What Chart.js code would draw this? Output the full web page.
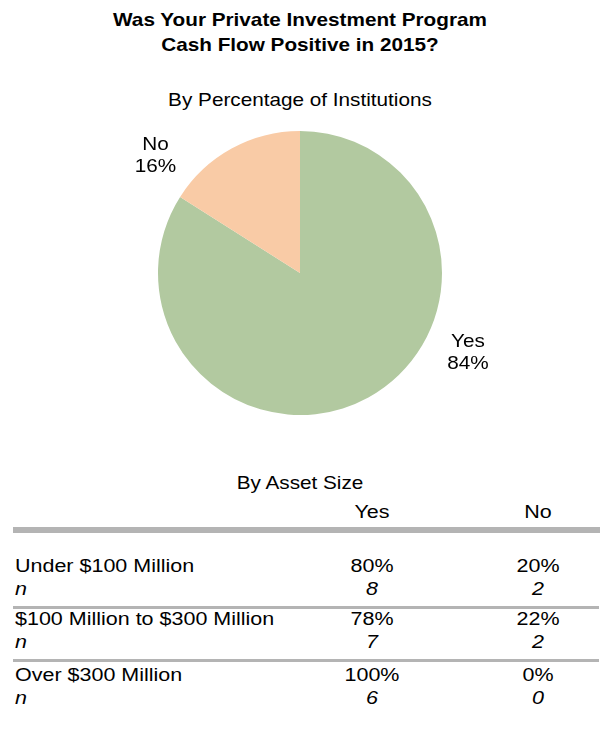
<!DOCTYPE html>
<html>
<head>
<meta charset="utf-8">
<script src="https://cdn.jsdelivr.net/npm/chart.js@4.4.1/dist/chart.umd.min.js"></script>
<style>
  body { margin: 0; width: 600px; height: 732px; background: #fff; position: relative; overflow: hidden;
         font-family: "Liberation Sans", Arial, sans-serif; color: #000; }
  .txt { position: absolute; white-space: nowrap; line-height: 1; font-size: 18.5px; }
  .title { font-weight: bold; }
  .cell { font-size: 19.2px; }
  .it { font-style: italic; }
  .rule { position: absolute; background: #b4b4b4; }
  #pieWrap { position: absolute; left: 0; top: 110px; }
</style>
</head>
<body>
<div id="pieWrap"><canvas id="pie" width="600" height="330"></canvas></div>

<script>
const pieLabels = ['Yes', 'No'];
const pieValues = [84, 16];
const pieColors = ['#b2c9a0', '#f9cba6'];

const sizeGroups = ['Under $100 Million', '$100 Million to $300 Million', 'Over $300 Million'];
const colHeads = ['Yes', 'No'];
const yesPct = [80, 78, 100];
const noPct = [20, 22, 0];
const yesN = [8, 7, 6];
const noN = [2, 2, 0];

// text is set a little wide, like the original export
const STRETCH = 1.12;

// place a line of text centred vertically on y; align = left | center
function put(text, x, y, cls, align) {
  const d = document.createElement('div');
  d.className = 'txt ' + cls;
  d.textContent = text;
  d.style.left = x + 'px';
  d.style.top = y + 'px';
  if (align === 'center') {
    d.style.transform = 'translate(-50%,-50%) scaleX(' + STRETCH + ')';
  } else {
    d.style.transformOrigin = 'left center';
    d.style.transform = 'translate(0,-50%) scaleX(' + STRETCH + ')';
  }
  document.body.appendChild(d);
}
function rule(x, y, w, h) {
  const d = document.createElement('div');
  d.className = 'rule';
  d.style.left = x + 'px'; d.style.top = y + 'px';
  d.style.width = w + 'px'; d.style.height = h + 'px';
  document.body.appendChild(d);
}

put('Was Your Private Investment Program', 300, 20, 'title', 'center');
put('Cash Flow Positive in 2015?', 300, 45, 'title', 'center');
put('By Percentage of Institutions', 300, 100, '', 'center');
put('By Asset Size', 300, 483, '', 'center');

const colX = [372, 538];
colHeads.forEach((h, i) => put(h, colX[i], 512, 'cell', 'center'));
rule(13, 527, 587, 6);

const rowTop = [566, 619, 675];
sizeGroups.forEach((g, i) => {
  const y = rowTop[i];
  put(g, 15, y, 'cell', 'left');
  put(yesPct[i] + '%', colX[0], y, 'cell', 'center');
  put(noPct[i] + '%', colX[1], y, 'cell', 'center');
  put('n', 15, y + 23, 'cell it', 'left');
  put(String(yesN[i]), colX[0], y + 23, 'cell it', 'center');
  put(String(noN[i]), colX[1], y + 23, 'cell it', 'center');
  if (i < sizeGroups.length - 1) rule(13, y + 40, 586, 3);
});

// slice labels set outside the pie, two lines each
const sliceLabels = {
  id: 'sliceLabels',
  afterDatasetsDraw(chart, args, opts) {
    const ctx = chart.ctx;
    const meta = chart.getDatasetMeta(0);
    meta.data.forEach((arc, i) => {
      const a = opts.angles[i] * Math.PI / 180;
      const d = arc.outerRadius * opts.distance;
      ctx.save();
      ctx.translate(arc.x + Math.cos(a) * d, arc.y + Math.sin(a) * d);
      ctx.scale(STRETCH, 1);
      ctx.font = '18.5px "Liberation Sans", Arial, sans-serif';
      ctx.fillStyle = '#000';
      ctx.textAlign = 'center';
      ctx.textBaseline = 'middle';
      ctx.fillText(chart.data.labels[i], 0, -11);
      ctx.fillText(chart.data.datasets[0].data[i] + '%', 0, 11);
      ctx.restore();
    });
  }
};

new Chart(document.getElementById('pie'), {
  type: 'pie',
  data: {
    labels: pieLabels,
    datasets: [{
      data: pieValues,
      backgroundColor: pieColors,
      borderWidth: 0
    }]
  },
  options: {
    responsive: false,
    animation: false,
    layout: { padding: { top: 21, bottom: 25 } },
    plugins: {
      legend: { display: false },
      tooltip: { enabled: false },
      sliceLabels: { angles: [25.5, -141], distance: 1.31 }
    }
  },
  plugins: [sliceLabels]
});
</script>
</body>
</html>
